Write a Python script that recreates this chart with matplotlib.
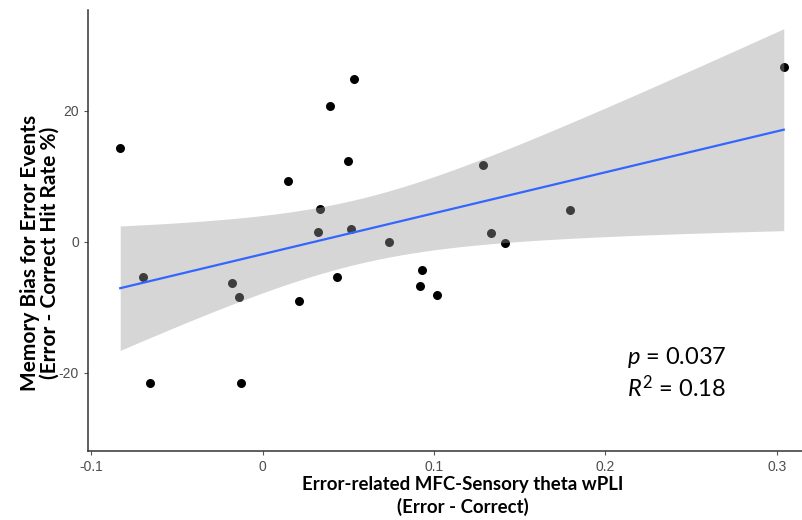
import numpy as np
import matplotlib
matplotlib.use("Agg")
import matplotlib.pyplot as plt

plt.rcParams["mathtext.fontset"] = "custom"
plt.rcParams["mathtext.rm"] = "Lato"
plt.rcParams["mathtext.it"] = "Lato:italic"

# wPLI difference (Error - Correct) per subject
wpli = [-0.083, -0.0696, -0.0655, -0.018, -0.0135, -0.0123, 0.0212, 0.0437,
        0.015, 0.0333, 0.0326, 0.0396, 0.0536, 0.0501, 0.0517, 0.0739,
        0.093, 0.0918, 0.102, 0.1287, 0.1795, 0.1331, 0.1417, 0.304]
# memory bias (Error - Correct hit rate %)
bias = [14.35, -5.3, -21.6, -6.3, -8.4, -21.5, -9.05, -5.4,
        9.27, 5.0, 1.57, 20.7, 24.9, 12.4, 2.0, 0.0,
        -4.3, -6.8, -8.15, 11.7, 4.9, 1.3, -0.1, 26.7]

xticks = [-0.1, 0, 0.1, 0.2, 0.3]
xtick_labels = ["-0.1", "0", "0.1", "0.2", "0.3"]
yticks = [-20, 0, 20]
ytick_labels = ["-20", "0", "20"]

x = np.array(wpli)
y = np.array(bias)

# linear fit + 95% confidence band (like geom_smooth(method='lm'))
n = len(x)
slope, intercept = np.polyfit(x, y, 1)
resid = y - (slope * x + intercept)
s = np.sqrt(np.sum(resid ** 2) / (n - 2))
sxx = np.sum((x - x.mean()) ** 2)
t_crit = 2.074  # t(0.975, df=22)
xs = np.linspace(x.min(), x.max(), 200)
fit = slope * xs + intercept
se = s * np.sqrt(1 / n + (xs - x.mean()) ** 2 / sxx)

fig = plt.figure(figsize=(8.02, 5.2), dpi=100)
ax = fig.add_axes([0.1097, 0.1327, 0.89, 0.8483])

ax.scatter(x, y, s=42, color="black", zorder=2, linewidths=0)
ax.fill_between(xs, fit - t_crit * se, fit + t_crit * se,
                color="#999999", alpha=0.4, linewidth=0, zorder=3)
ax.plot(xs, fit, color="#3366FF", linewidth=1.6, zorder=4)

ax.set_xlim(-0.1018, 0.3145)
ax.set_ylim(-31.9, 35.4)

ax.set_xticks(xticks)
ax.set_xticklabels(xtick_labels)
ax.set_yticks(yticks)
ax.set_yticklabels(ytick_labels)
ax.tick_params(axis="both", length=3, width=0.8, color="#555555",
               labelcolor="#4D4D4D", labelsize=10)
for lbl in ax.get_xticklabels() + ax.get_yticklabels():
    lbl.set_family("Liberation Sans")

for side in ["top", "right"]:
    ax.spines[side].set_visible(False)
for side in ["left", "bottom"]:
    ax.spines[side].set_color("#333333")
    ax.spines[side].set_linewidth(1.1)

# axis titles placed as figure text
fig.text(462.5 / 802, 1 - 496 / 520,
         "Error-related MFC-Sensory theta wPLI\n(Error - Correct)",
         fontsize=13.4, fontweight="bold", family="Lato",
         ha="center", va="center", linespacing=1.32)
fig.text(40 / 802, 1 - 253 / 520,
         "Memory Bias for Error Events\n(Error - Correct Hit Rate %)",
         fontsize=15, fontweight="bold", family="Lato", rotation=90,
         ha="center", va="center", linespacing=0.95)

ax.text(0.2126, -17.7, "$p$ = 0.037", fontsize=17, family="Lato",
        va="center", ha="left")
ax.text(0.2126, -22.3, "$R^2$ = 0.18", fontsize=17, family="Lato",
        va="center", ha="left")

fig.savefig("out.png", dpi=100)
